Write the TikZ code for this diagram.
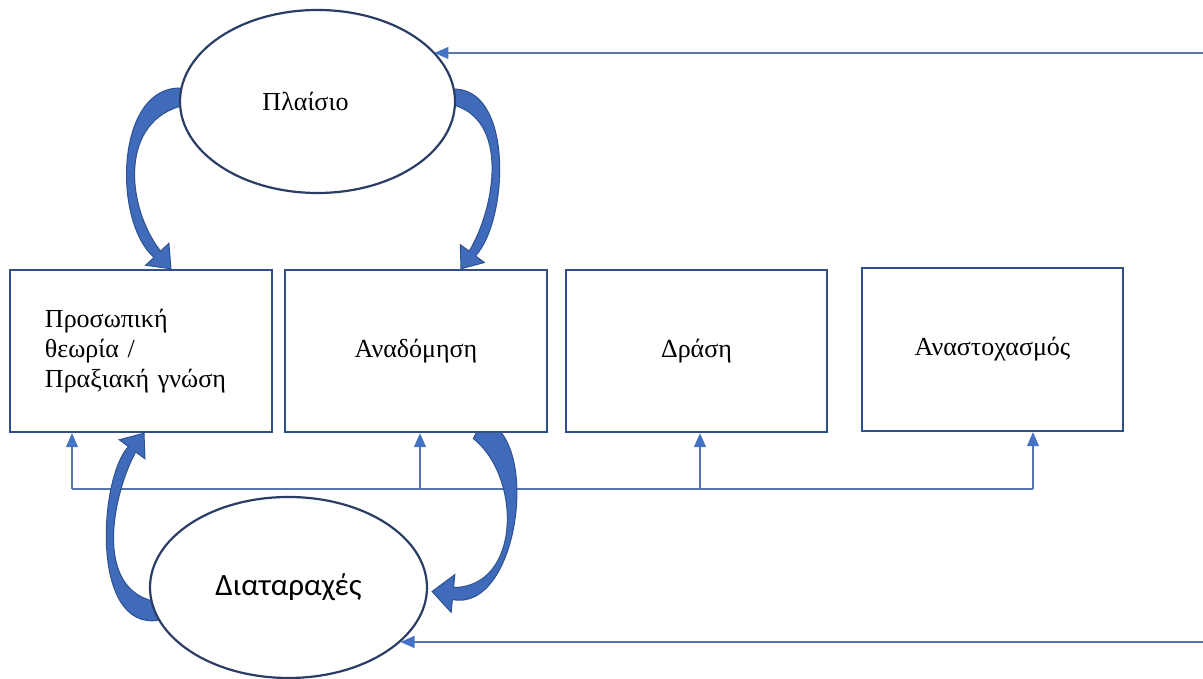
\documentclass[tikz,border=0pt]{standalone}
\usepackage{fontspec}
\setmainfont{Liberation Serif}
\newfontfamily\calibfont{Carlito}
\usetikzlibrary{arrows.meta,shapes.geometric,calc,backgrounds}
\definecolor{boxline}{HTML}{2F4F8A}
\definecolor{ellline}{HTML}{2B3D66}
\definecolor{wire}{HTML}{5677AD}
\definecolor{tipblue}{HTML}{4472C4}
\definecolor{bigblue}{HTML}{3F6BBA}
\definecolor{bigedge}{HTML}{2F528F}
\tikzset{
  stagebox/.style={draw=boxline, fill=white, line width=2.4pt, minimum width=262pt, minimum height=162pt,
    inner sep=0pt, font=\fontsize{26}{30}\selectfont},
  ellnode/.style={ellipse, draw=ellline, fill=white, line width=2.2pt, inner sep=0pt},
  wirearrow/.style={draw=wire, line width=1.1pt, -{Triangle[width=12pt,length=14pt,fill=tipblue,color=tipblue]}},
  wireline/.style={draw=wire, line width=1.1pt},
  blockarr/.style={fill=bigblue, draw=bigedge, line width=1pt, line join=miter}
}
% control points of the edge curves are pushed further out so that the
% body keeps its width through the bend
\newcommand\bendfactor{2.2}
% tapered curved block arrow:
% #1 tail, #2 first control, #3 second control, #4 tip,
% #5 half width at tail, #6 half width at head base, #7 half head width, #8 head length
\newcommand\blockarrow[8]{%
  \path (#1) coordinate (ba-p0) (#2) coordinate (ba-c1) (#3) coordinate (ba-c2) (#4) coordinate (ba-t);
  \path ($(ba-t)!#8!(ba-c2)$) coordinate (ba-p3);
  \filldraw[blockarr]
    ($(ba-p0)!#5!90:(ba-c1)$)
      .. controls ($(ba-c1)!\bendfactor*#5!-90:(ba-p0)$) and ($(ba-c2)!\bendfactor*#6!90:(ba-p3)$)
      .. ($(ba-p3)!#6!-90:(ba-c2)$)
    -- ($(ba-p3)!#7!-90:(ba-c2)$) -- (ba-t) -- ($(ba-p3)!#7!90:(ba-c2)$)
    -- ($(ba-p3)!#6!90:(ba-c2)$)
      .. controls ($(ba-c2)!\bendfactor*#6!-90:(ba-p3)$) and ($(ba-c1)!\bendfactor*#5!90:(ba-p0)$)
      .. ($(ba-p0)!#5!-90:(ba-c1)$)
    -- cycle;
}
\begin{document}
\begin{tikzpicture}[x=1pt,y=1pt]
\useasboundingbox (0,0) rectangle (1203,679);

% context and disturbances
\node[ellnode, minimum width=275pt, minimum height=183pt, font=\fontsize{26}{30}\selectfont]
  (ctx) at (317.5,577.5) {Πλαίσιο\hspace*{24pt}};
\node[ellnode, minimum width=277pt, minimum height=181pt, font=\calibfont\fontsize{31}{36}\selectfont]
  (dist) at (288.5,91.5) {Διαταραχές};

% the four stages
\node[stagebox, text width=192pt, align=left] (b1) at (141,328)
  {Προσωπική\\θεωρία /\\Πραξιακή γνώση};
\node[stagebox] (b2) at (416,328) {Αναδόμηση};
\node[stagebox, minimum width=261pt] (b3) at (696.5,328) {Δράση};
\node[stagebox, minimum width=261pt, minimum height=163pt] (b4) at (992.5,329.5) {Αναστοχασμός};

\begin{scope}[on background layer]
% feedback bus under the stages
\coordinate (j1) at (72,190);
\coordinate (j2) at (420,190);
\coordinate (j3) at (700,190);
\coordinate (j4) at (1033,190);
\draw[wireline] (j1) -- (j4);
\draw[wirearrow] (j1) -- (j1 |- b1.south);
\draw[wirearrow] (j2) -- (j2 |- b2.south);
\draw[wirearrow] (j3) -- (j3 |- b3.south);
\draw[wirearrow] (j4) -- (j4 |- b4.south);

% long inputs from the right edge
\coordinate (inTop) at (1203,626);
\coordinate (inBot) at (1203,37);
\draw[wirearrow] (inTop) -- (inTop -| ctx.23);
\draw[wirearrow] (inBot) -- (inBot -| dist.-26);

% curved block arrows
\blockarrow{[xshift=5pt]ctx.178}{$(ctx.west)+(-62,0)$}{$(b1.north)+(-22,55)$}{[xshift=30pt]b1.north}{8.5pt}{4.5pt}{16pt}{20pt}
\blockarrow{[xshift=-5pt]ctx.2}{$(ctx.east)+(56,0)$}{$(b2.north)+(86,55)$}{[xshift=45pt]b2.north}{7.5pt}{4pt}{15pt}{19pt}
\blockarrow{[xshift=5pt]dist.190}{$(dist.190)+(-64,0)$}{$(b1.south)+(-34,-50)$}{[xshift=3pt]b1.south}{9pt}{4.5pt}{16pt}{20pt}
\blockarrow{[shift={(62pt,4pt)}]b2.south}{$(b2.south)+(116,-23)$}{$(dist.east)+(92,-12.5)$}{[shift={(4pt,-4pt)}]dist.east}{10.5pt}{6pt}{19pt}{21pt}
\end{scope}
\end{tikzpicture}
\end{document}
